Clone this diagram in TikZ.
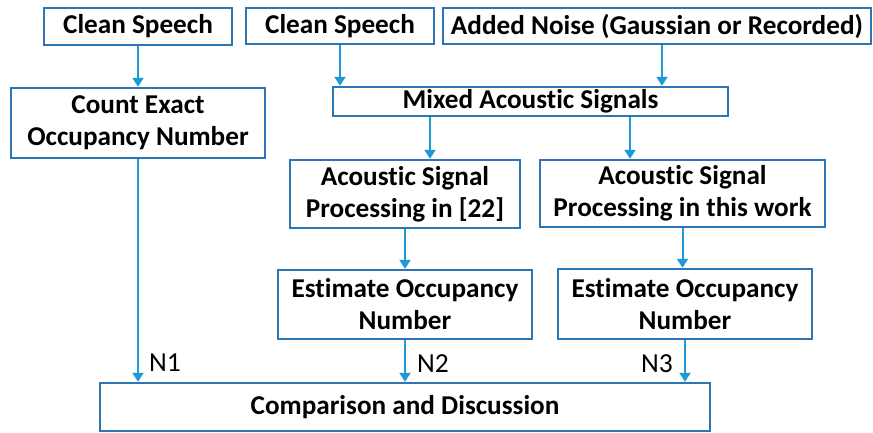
\documentclass[tikz,border=0pt]{standalone}
\usepackage{fontspec}
\setmainfont{Carlito}[Ligatures=NoCommon]
\usepackage{xcolor}
\usepackage{tikz}
\usetikzlibrary{arrows.meta,positioning}
\definecolor{boxblue}{RGB}{46,117,182}
\definecolor{arrblue}{RGB}{30,155,215}
\tikzstyle{blk}=[rectangle, draw=boxblue, line width=2.4pt, fill=white,
  align=center, inner sep=0pt, font=\fontsize{27.2}{32}\selectfont\bfseries]
\tikzstyle{arrow}=[-{Triangle[length=9pt,width=11pt]}, draw=arrblue, line width=2pt]
\tikzstyle{lbl}=[font=\fontsize{27.5}{32}\selectfont, inner sep=0pt]

\begin{document}
\begin{tikzpicture}[x=1pt,y=-1pt]
\useasboundingbox (0,0) rectangle (873,432);
% inputs
\node[blk, minimum width=188, minimum height=37] (cs1) at (138,26.5) {Clean Speech};
\node[blk, minimum width=188, minimum height=36] (cs2) at (340,26) {Clean Speech};
\node[blk, minimum width=428, minimum height=36] (noise) at (657,26) {Added Noise (Gaussian or Recorded)};
% second row
\node[blk, minimum width=254, minimum height=70] (count) at (138,123) {Count Exact\\Occupancy Number};
\node[blk, minimum width=395, minimum height=29] (mix) at (530.5,101.5) {Mixed Acoustic Signals};
% processing
\node[blk, minimum width=230, minimum height=68] (asp1) at (405,194) {Acoustic Signal\\Processing in [22]};
\node[blk, minimum width=285, minimum height=67] (asp2) at (682.5,193.5) {Acoustic Signal\\Processing in this work};
% estimates
\node[blk, minimum width=254, minimum height=69] (est1) at (405,304.5) {Estimate Occupancy\\Number};
\node[blk, minimum width=254, minimum height=70] (est2) at (685,304) {Estimate Occupancy\\Number};
\node[blk, minimum width=610, minimum height=48] (comp) at (405,407) {Comparison and Discussion};
% connectors
\draw[arrow] (cs1) -- (count);
\draw[arrow] (cs2.south) -- (cs2.south |- mix.north);
\draw[arrow] (662,0 |- noise.south) -- (662,0 |- mix.north);
\draw[arrow] (430,0 |- mix.south) -- (430,0 |- asp1.north);
\draw[arrow] (630,0 |- mix.south) -- (630,0 |- asp2.north);
\draw[arrow] (asp1) -- (est1);
\draw[arrow] (asp2.south) -- (asp2.south |- est2.north);
\draw[arrow] (count.south) -- (count.south |- comp.north);
\draw[arrow] (est1) -- (comp);
\draw[arrow] (est2.south) -- (est2.south |- comp.north);
% N labels
\node[lbl] (n1) at (165,363) {N1};
\node[lbl] (n2) at (433,364) {N2};
\node[lbl] (n3) at (657,364) {N3};
\end{tikzpicture}
\end{document}
